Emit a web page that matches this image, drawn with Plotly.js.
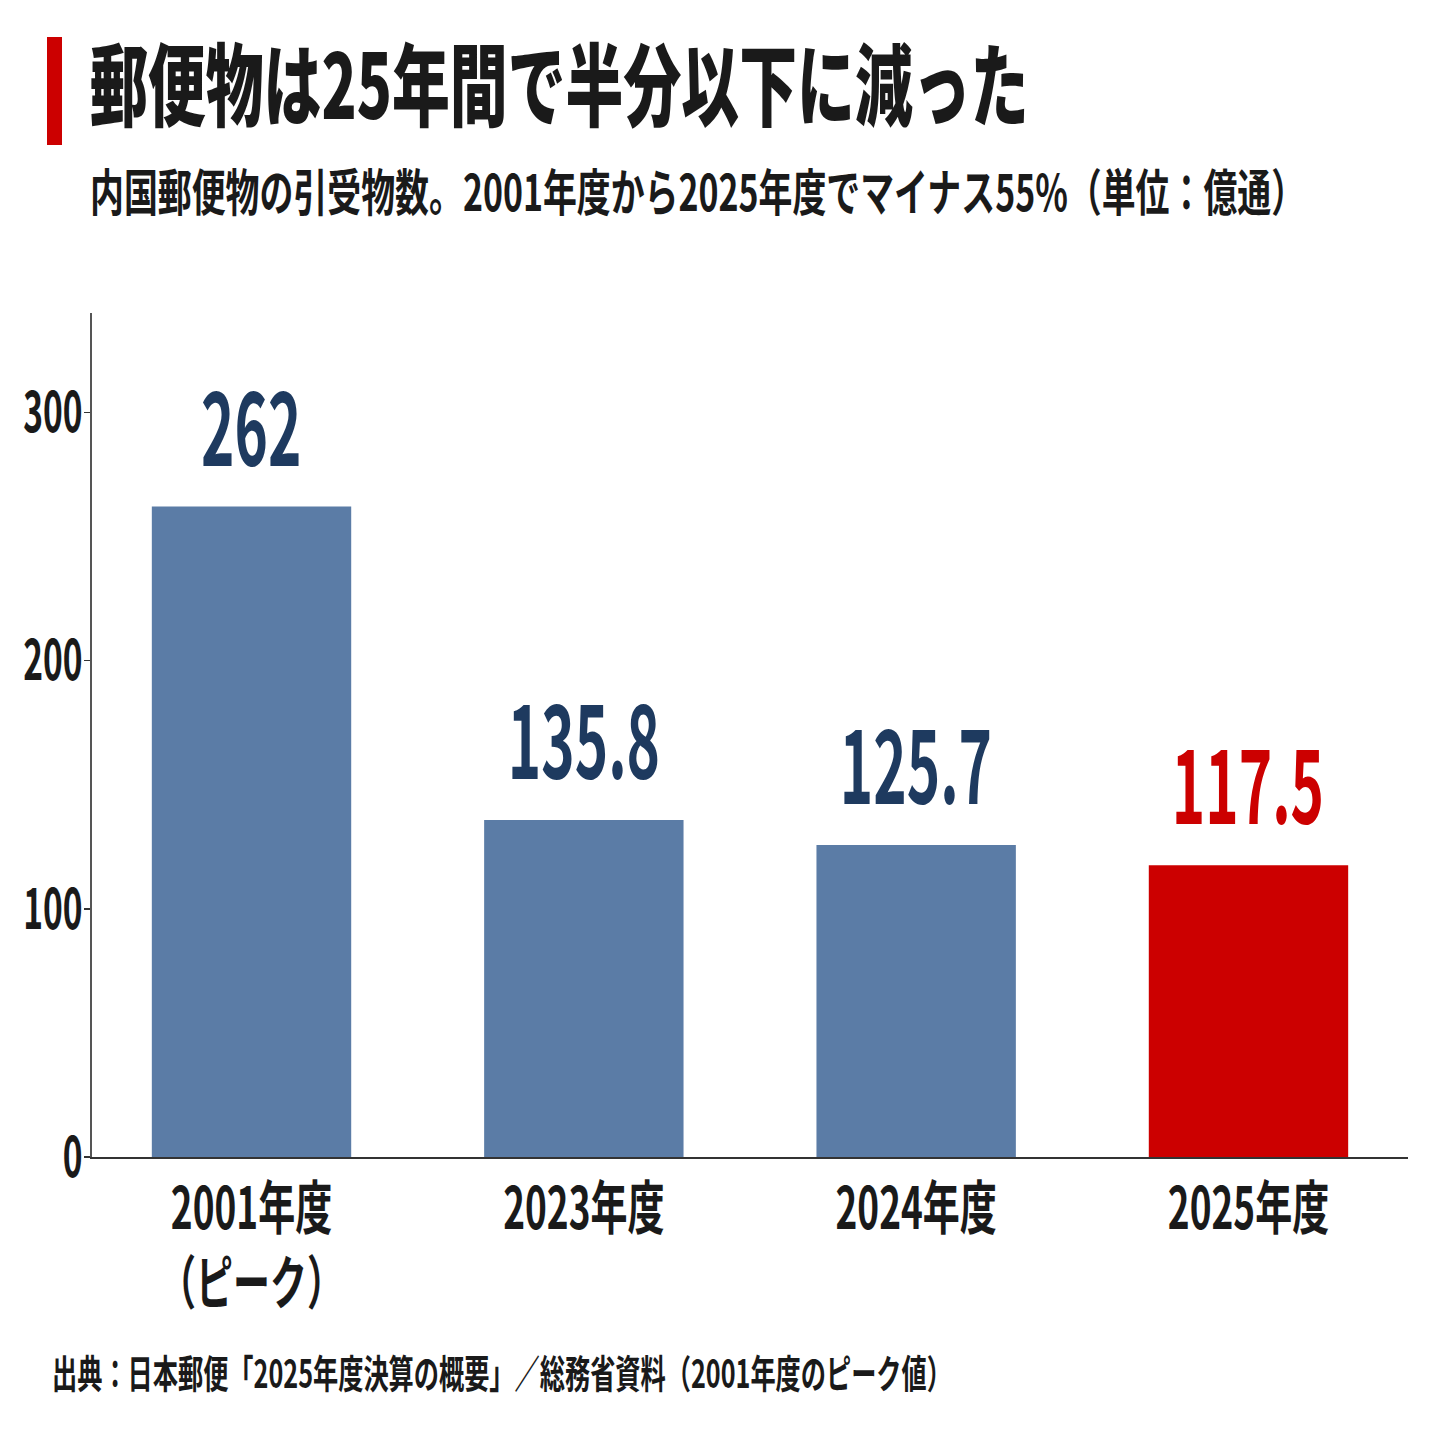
<!DOCTYPE html>
<html>
<head>
<meta charset="utf-8">
<script src="https://cdn.plot.ly/plotly-3.0.1.min.js"></script>
<style>
  body { margin: 0; background: #fff; }
  #chart { width: 1431px; height: 1431px; }
</style>
</head>
<body>
<div id="chart"></div>
<script>
// 内国郵便物の引受物数（億通）
var years = ['2001年度<br>（ピーク）', '2023年度', '2024年度', '2025年度'];
var mailCount = [262, 135.8, 125.7, 117.5];
var yTicks = [0, 100, 200, 300];

var FONT = '"Noto Sans CJK JP", "Noto Sans", sans-serif';
var BLUE = '#5b7ca6';
var RED = '#cc0000';
var NAVY = '#1e3a5f';

var barColors = years.map(function (_, i) { return i === years.length - 1 ? RED : BLUE; });
var labelColors = years.map(function (_, i) { return i === years.length - 1 ? RED : NAVY; });

var data = [{
  type: 'bar',
  x: years,
  y: mailCount,
  marker: { color: barColors, line: { width: 0 } },
  hoverinfo: 'skip'
}];

// value labels above each bar
var valueLabels = mailCount.map(function (v, i) {
  return {
    x: years[i], y: v, xref: 'x', yref: 'y',
    text: String(v), showarrow: false,
    yanchor: 'bottom', yshift: 10,
    font: { family: FONT, size: 102, color: labelColors[i], weight: 700 }
  };
});

var layout = {
  width: 1431, height: 1431,
  margin: { l: 92, r: 23, t: 313, b: 274 },
  paper_bgcolor: '#fff', plot_bgcolor: '#fff',
  showlegend: false,
  bargap: 0.4,
  title: {
    text: '郵便物は25年間で半分以下に減った',
    xref: 'container', yref: 'container',
    x: 90 / 1431, xanchor: 'left',
    y: 1 - 87 / 1431, yanchor: 'middle',
    font: { family: FONT, size: 90, color: '#1a1a1a', weight: 900 }
  },
  xaxis: {
    range: [-0.48, 3.48],
    showline: true, linecolor: '#333', linewidth: 2,
    ticks: '', showgrid: false, zeroline: false,
    tickfont: { family: FONT, size: 58, color: '#1a1a1a', weight: 700 },
    fixedrange: true
  },
  yaxis: {
    range: [0, 340],
    tickvals: yTicks,
    showline: true, linecolor: '#555', linewidth: 2,
    ticks: 'outside', ticklen: 6, tickcolor: '#333', tickwidth: 1.5,
    ticklabelstandoff: -10,
    showgrid: false, zeroline: false,
    tickfont: { family: FONT, size: 57, color: '#1a1a1a', weight: 700 },
    fixedrange: true
  },
  shapes: [{
    type: 'rect', xref: 'paper', yref: 'paper',
    x0: (47 - 92) / 1316, x1: (62 - 92) / 1316,
    y0: (1157 - 145) / 844, y1: (1157 - 37) / 844,
    fillcolor: RED, line: { width: 0 }
  }],
  annotations: valueLabels.concat([
    {
      xref: 'paper', yref: 'paper',
      x: (88 - 92) / 1316, y: (1157 - 189) / 844,
      xanchor: 'left', yanchor: 'middle', align: 'left', showarrow: false,
      text: '内国郵便物の引受物数。2001年度から2025年度でマイナス55%（単位：億通）',
      font: { family: FONT, size: 50, color: '#1a1a1a', weight: 700 }
    },
    {
      xref: 'paper', yref: 'paper',
      x: (50 - 92) / 1316, y: (1157 - 1371) / 844,
      xanchor: 'left', yanchor: 'middle', align: 'left', showarrow: false,
      text: '出典：日本郵便「2025年度決算の概要」／総務省資料（2001年度のピーク値）',
      font: { family: FONT, size: 39, color: '#1a1a1a', weight: 700 }
    }
  ])
};

// the reference uses a condensed gothic face; squeeze glyphs horizontally.
// squeeze factor picked per font size (title, subtitle, footer, ticks, labels)
var squeeze = { 90: 0.643, 50: 0.678, 39: 0.646, 58: 0.638, 57: 0.588, 102: 0.556 };

function condense(gd) {
  gd.querySelectorAll('svg text').forEach(function (t) {
    var s = squeeze[Math.round(parseFloat(t.style.fontSize))];
    if (!s) return;
    var lines = t.querySelectorAll('tspan.line');
    var targets = lines.length ? Array.prototype.slice.call(lines) : [t];
    targets.forEach(function (el) {
      var L = el.getComputedTextLength();
      if (!(L > 0)) return;
      el.setAttribute('textLength', L * s);
      el.setAttribute('lengthAdjust', 'spacingAndGlyphs');
    });
  });
}

Plotly.newPlot('chart', data, layout, { displayModeBar: false, staticPlot: true })
  .then(function (gd) { condense(gd); });
</script>
</body>
</html>
